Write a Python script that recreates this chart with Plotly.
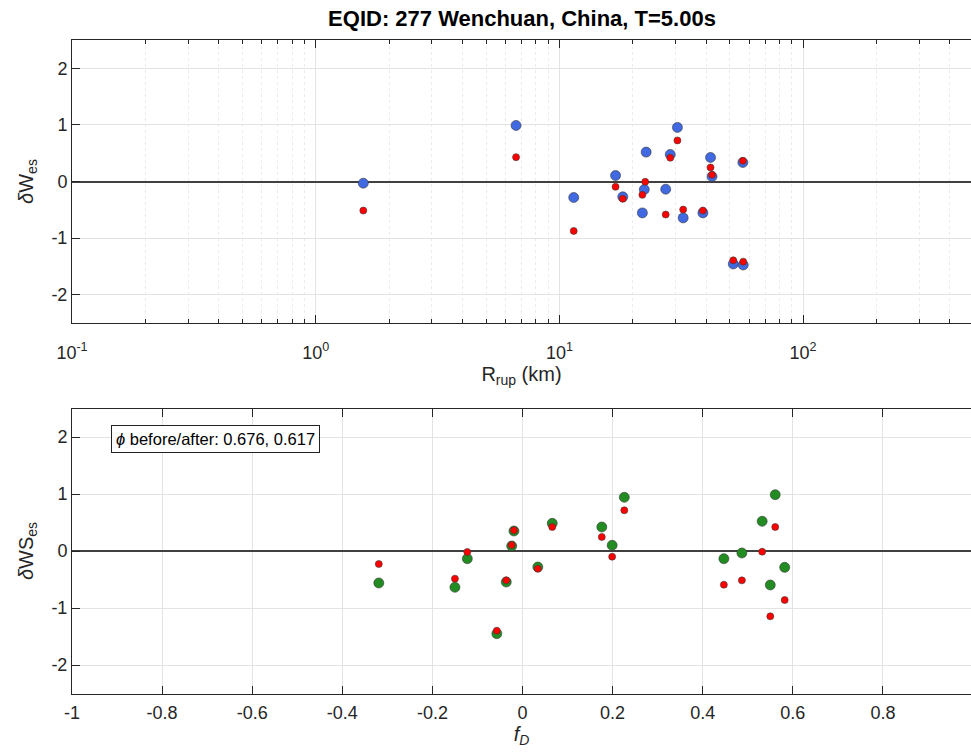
import plotly.graph_objects as go

# ---- data ----
# top panel: dW_es vs Rrup
rrup_blue = [1.568, 6.64, 11.45, 17.0, 18.2, 22.7, 22.3, 21.9, 27.3, 28.5, 30.5, 32.2, 38.8, 41.7, 42.3, 51.7, 56.8, 56.6]
dw_blue = [-0.03, 0.99, -0.283, 0.106, -0.271, 0.519, -0.142, -0.555, -0.136, 0.478, 0.956, -0.643, -0.555, 0.425, 0.088, -1.457, -1.475, 0.336]
rrup_red = [1.568, 6.64, 11.45, 17.0, 18.2, 22.5, 21.9, 27.3, 28.5, 30.5, 32.2, 38.8, 41.7, 42.3, 51.7, 56.8, 56.6]
dw_red = [-0.513, 0.43, -0.873, -0.094, -0.306, -0.006, -0.236, -0.584, 0.419, 0.726, -0.496, -0.513, 0.248, 0.118, -1.393, -1.416, 0.366]

# bottom panel: dWS_es vs fD
fd = [-0.319, -0.150, -0.1225, -0.057, -0.036, -0.024, -0.019, 0.034, 0.066, 0.176, 0.199, 0.226, 0.447, 0.487, 0.532, 0.561, 0.550, 0.582]
dws_green = [-0.561, -0.637, -0.135, -1.45, -0.544, 0.088, 0.351, -0.281, 0.485, 0.421, 0.1, 0.942, -0.135, -0.035, 0.521, 0.988, -0.596, -0.287]
dws_red = [-0.228, -0.485, -0.018, -1.398, -0.515, 0.105, 0.363, -0.31, 0.421, 0.246, -0.1, 0.714, -0.591, -0.515, -0.012, 0.421, -1.146, -0.86]

title = "EQID: 277 Wenchuan, China, T=5.00s"
phi_text = "<i>ϕ</i> before/after: 0.676, 0.617"
top_xticks = [0.1, 1, 10, 100]
top_xticklabels = ["10<sup>-1</sup>", "10<sup>0</sup>", "10<sup>1</sup>", "10<sup>2</sup>"]
bot_xticks = [-1, -0.8, -0.6, -0.4, -0.2, 0, 0.2, 0.4, 0.6, 0.8, 1]
bot_xticklabels = ["-1", "-0.8", "-0.6", "-0.4", "-0.2", "0", "0.2", "0.4", "0.6", "0.8", "1"]
yticks = [-2, -1, 0, 1, 2]
yticklabels = ["-2", "-1", "0", "1", "2"]

W, H = 971, 753
FONT = "Liberation Sans"
AX = "#262626"
GRID = "#e3e3e3"

minor_vals = []
for dec in [0.1, 1, 10, 100]:
    for m in range(2, 10):
        minor_vals.append(m * dec)

fig = go.Figure()
edge = dict(color="#3a3a3a", width=0.6)
fig.add_trace(go.Scatter(x=rrup_blue, y=dw_blue, mode="markers", xaxis="x", yaxis="y",
                         marker=dict(size=10, color="#4169E1", line=edge), showlegend=False))
fig.add_trace(go.Scatter(x=rrup_red, y=dw_red, mode="markers", xaxis="x", yaxis="y",
                         marker=dict(size=7, color="#FF0000", line=edge), showlegend=False))
fig.add_trace(go.Scatter(x=fd, y=dws_green, mode="markers", xaxis="x2", yaxis="y2",
                         marker=dict(size=10, color="#228B22", line=edge), showlegend=False))
fig.add_trace(go.Scatter(x=fd, y=dws_red, mode="markers", xaxis="x2", yaxis="y2",
                         marker=dict(size=7, color="#FF0000", line=edge), showlegend=False))

x0 = 72 / W
common_y = dict(range=[-2.5, 2.5], tickvals=yticks, ticktext=yticklabels, ticks="inside", ticklen=8, tickcolor=AX,
                showline=True, linecolor=AX, linewidth=1, showgrid=True, gridcolor=GRID, gridwidth=1,
                zeroline=True, zerolinecolor="#404040", zerolinewidth=1.5, automargin=False,
                tickfont=dict(family=FONT, size=18, color=AX))

fig.update_layout(
    width=W, height=H,
    margin=dict(l=0, r=0, t=0, b=0),
    paper_bgcolor="white", plot_bgcolor="white",
    font=dict(family=FONT, color=AX),
    title=dict(text="<b>" + title + "</b>", x=522 / W, xanchor="center", y=1 - 18 / H, yanchor="middle",
               font=dict(family=FONT, size=22, color="black")),
    xaxis=dict(type="log", domain=[x0, 1], range=[-1, -1 + (W - 72) / 243.7], anchor="y",
               tickvals=top_xticks, ticktext=top_xticklabels, ticks="inside", ticklen=8, tickcolor=AX,
               showline=True, linecolor=AX, linewidth=1, mirror="ticks", automargin=False,
               showgrid=True, gridcolor=GRID, gridwidth=1, ticklabelstandoff=13,
               minor=dict(tickvals=minor_vals, ticks="inside", ticklen=4, tickcolor=AX,
                          showgrid=True, gridcolor="#ebebeb", griddash="dot", gridwidth=1),
               tickfont=dict(family=FONT, size=18, color=AX),
               title=dict(text="R<sub>rup</sub> (km)", font=dict(family=FONT, size=20, color=AX), standoff=2)),
    yaxis=dict(domain=[1 - 323 / H, 1 - 40 / H], anchor="x",
               title=dict(text="<i>δ</i>W<sub>es</sub>", font=dict(family=FONT, size=20, color=AX), standoff=12),
               **common_y),
    xaxis2=dict(domain=[x0, 1], range=[-1, -1 + (W - 72) / 450.5], anchor="y2",
                tickvals=bot_xticks, ticktext=bot_xticklabels, ticks="inside", ticklen=8, tickcolor=AX,
                showline=True, linecolor=AX, linewidth=1, mirror="ticks", automargin=False,
                showgrid=True, gridcolor=GRID, gridwidth=1, zeroline=False, ticklabelstandoff=3,
                tickfont=dict(family=FONT, size=18, color=AX),
                title=dict(text="<i>f<sub>D</sub></i>", font=dict(family=FONT, size=20, color=AX), standoff=4)),
    yaxis2=dict(domain=[1 - 693.5 / H, 1 - 408.5 / H], anchor="x2",
                title=dict(text="<i>δ</i>WS<sub>es</sub>", font=dict(family=FONT, size=20, color=AX), standoff=12),
                **common_y),
    annotations=[dict(text=phi_text, xref="paper", yref="paper", x=111 / W, y=1 - 425 / H,
                      xanchor="left", yanchor="top", showarrow=False,
                      font=dict(family=FONT, size=16.5, color="black"),
                      bgcolor="white", bordercolor="#222", borderwidth=1, borderpad=4)],
)

fig.write_html("out.html")
